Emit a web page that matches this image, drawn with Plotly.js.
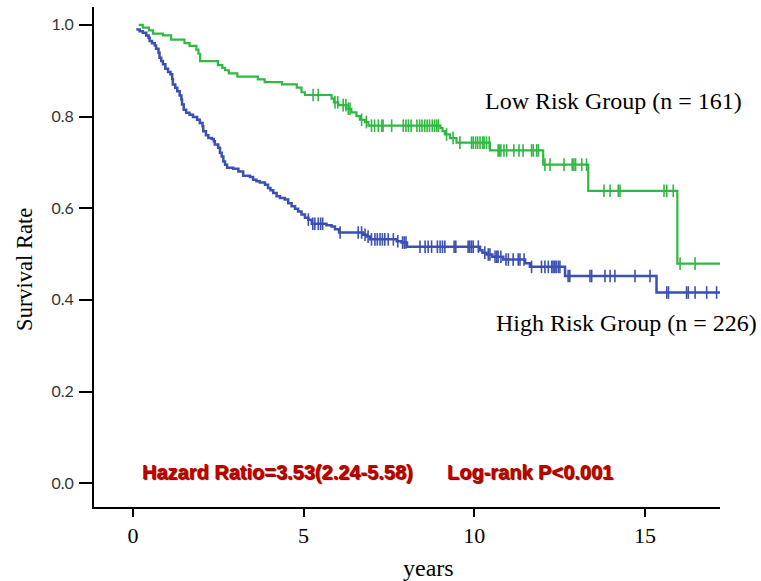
<!DOCTYPE html>
<html>
<head>
<meta charset="utf-8">
<script src="https://cdn.plot.ly/plotly-3.0.1.min.js"></script>
<style>
  html, body { margin: 0; padding: 0; background: #fff; }
  #chart { width: 761px; height: 581px; }
</style>
</head>
<body>
<div id="chart"></div>
<script>
// ---- Data (time in years, survival probability) ----
const lowTimes = [0.17,0.29,0.47,0.59,0.88,1.12,1.51,1.66,1.86,1.92,1.97,2.49,2.62,2.70,2.81,3.06,3.66,3.86,4.37,4.80,4.94,5.04,5.82,5.89,6.02,6.26,6.40,6.55,6.65,6.80,6.90,9.01,9.07,9.14,9.29,9.48,10.46,12.02,13.34,15.95,17.2];
const lowSurv  = [1.000,0.994,0.988,0.981,0.977,0.968,0.960,0.954,0.946,0.937,0.921,0.912,0.906,0.901,0.894,0.887,0.881,0.875,0.870,0.863,0.853,0.847,0.839,0.831,0.825,0.817,0.809,0.801,0.793,0.788,0.780,0.775,0.768,0.761,0.753,0.743,0.726,0.695,0.638,0.479,0.479];
const lowCensored = [5.28,5.43,5.92,6.00,6.16,6.24,6.31,6.36,6.70,6.84,6.99,7.08,7.19,7.29,7.33,7.58,7.92,8.00,8.07,8.15,8.32,8.40,8.47,8.55,8.62,8.69,8.77,8.84,8.90,8.95,9.19,9.38,9.58,9.92,9.97,10.04,10.10,10.17,10.25,10.29,10.36,10.44,10.70,10.73,10.78,10.87,10.95,11.16,11.31,11.43,11.68,11.73,11.83,11.88,12.07,12.22,12.63,12.87,12.92,12.97,13.15,13.29,13.80,13.98,14.22,14.27,15.56,15.64,15.83,16.03,16.47];

const highTimes = [0.10,0.20,0.29,0.39,0.46,0.49,0.56,0.64,0.68,0.75,0.78,0.83,0.88,0.95,1.03,1.10,1.15,1.17,1.24,1.30,1.37,1.42,1.44,1.49,1.56,1.66,1.76,1.88,1.96,2.04,2.06,2.14,2.21,2.31,2.37,2.40,2.50,2.55,2.60,2.65,2.70,2.76,2.94,3.09,3.23,3.43,3.52,3.62,3.72,3.87,3.96,4.03,4.11,4.21,4.31,4.45,4.55,4.65,4.75,4.84,4.94,5.04,5.14,5.24,5.67,5.82,5.92,6.04,6.75,6.85,6.95,7.73,7.87,8.03,10.17,10.24,10.36,10.53,10.85,11.49,11.63,12.66,15.34,17.2];
const highSurv  = [0.990,0.986,0.983,0.977,0.972,0.965,0.960,0.955,0.948,0.939,0.928,0.921,0.914,0.904,0.897,0.892,0.882,0.870,0.863,0.855,0.846,0.837,0.826,0.815,0.808,0.804,0.799,0.793,0.786,0.779,0.768,0.759,0.753,0.751,0.746,0.739,0.732,0.721,0.713,0.702,0.695,0.688,0.686,0.680,0.671,0.668,0.662,0.659,0.656,0.651,0.644,0.639,0.633,0.626,0.622,0.619,0.611,0.604,0.599,0.593,0.586,0.579,0.575,0.566,0.563,0.560,0.554,0.547,0.542,0.538,0.532,0.528,0.525,0.516,0.508,0.503,0.499,0.494,0.488,0.480,0.472,0.452,0.416,0.416];
const highCensored = [5.14,5.27,5.33,5.43,5.50,5.56,6.07,6.60,6.70,6.80,6.89,6.99,7.09,7.16,7.24,7.31,7.38,7.48,7.63,7.76,7.90,7.95,8.00,8.41,8.56,8.65,8.75,8.92,9.00,9.07,9.14,9.41,9.46,9.82,9.87,9.92,9.97,10.12,10.31,10.41,10.46,10.61,10.66,10.70,10.78,10.93,11.00,11.14,11.29,11.34,11.46,11.68,11.97,12.07,12.17,12.27,12.31,12.36,12.40,12.46,12.51,12.75,12.80,13.39,13.44,13.83,13.98,14.12,14.71,15.15,15.64,15.69,16.22,16.27,16.47,16.81,17.10];

const xTickVals = [0, 5, 10, 15];
const yTickVals = [0.0, 0.2, 0.4, 0.6, 0.8, 1.0];
const yTickText = ['0.0', '0.2', '0.4', '0.6', '0.8', '1.0'];

const xTitle = 'years';
const yTitle = 'Survival Rate';
const lowLabel = 'Low Risk Group (n = 161)';
const highLabel = 'High Risk Group (n = 226)';
const hrText = 'Hazard Ratio=3.53(2.24-5.58)';
const pText = 'Log-rank P<0.001';

// survival value of a step curve at time t
function stepValue(times, surv, t) {
  let v = surv[0];
  for (let i = 0; i < times.length; i++) { if (times[i] <= t) v = surv[i]; else break; }
  return v;
}

const GREEN = '#2fb842';
const BLUE = '#3a50b2';

const traces = [
  { x: highTimes, y: highSurv, mode: 'lines', line: { shape: 'hv', color: BLUE, width: 2.5 }, hoverinfo: 'skip', showlegend: false },
  { x: lowTimes, y: lowSurv, mode: 'lines', line: { shape: 'hv', color: GREEN, width: 2.2 }, hoverinfo: 'skip', showlegend: false },
  { x: highCensored, y: highCensored.map(t => stepValue(highTimes, highSurv, t)), mode: 'markers',
    marker: { symbol: 'line-ns-open', size: 9, color: BLUE, line: { color: BLUE, width: 1.6 } }, hoverinfo: 'skip', showlegend: false },
  { x: lowCensored, y: lowCensored.map(t => stepValue(lowTimes, lowSurv, t)), mode: 'markers',
    marker: { symbol: 'line-ns-open', size: 9, color: GREEN, line: { color: GREEN, width: 1.6 } }, hoverinfo: 'skip', showlegend: false }
];

const serif = 'Liberation Serif, Times New Roman, serif';
const redFont = { family: 'Liberation Sans, Arial, sans-serif', size: 20, color: '#c00000', weight: 700, shadow: '1px 1px 1px #5a0000' };

const layout = {
  width: 761, height: 581,
  margin: { l: 94, r: 41, t: 7, b: 74, pad: 0 },
  paper_bgcolor: '#ffffff', plot_bgcolor: '#ffffff',
  xaxis: {
    range: [-1.14, 17.2], tickvals: xTickVals, ticks: 'outside', ticklen: 8, tickwidth: 2, tickcolor: '#000',
    showline: true, linecolor: '#000', linewidth: 2, showgrid: false, zeroline: false,
    tickfont: { family: serif, size: 22, color: '#000' }
  },
  yaxis: {
    range: [-0.052, 1.039], tickvals: yTickVals, ticktext: yTickText, ticks: 'outside', ticklen: 13, tickwidth: 2, tickcolor: '#000',
    showline: true, linecolor: '#000', linewidth: 2, showgrid: false, zeroline: false,
    tickfont: { family: 'Lato, Noto Sans, sans-serif', size: 16, color: '#333' },
    ticklabelstandoff: 2
  },
  annotations: [
    { x: 0.535, y: -0.122, xref: 'paper', yref: 'paper', text: xTitle, showarrow: false, xanchor: 'center', yanchor: 'middle', font: { family: serif, size: 24, color: '#000' } },
    { x: -0.112, y: 0.476, xref: 'paper', yref: 'paper', text: yTitle, textangle: -90, showarrow: false, xanchor: 'center', yanchor: 'middle', font: { family: serif, size: 22.5, color: '#000' } },
    { x: 10.25, y: 0.834, xref: 'x', yref: 'y', text: lowLabel, showarrow: false, xanchor: 'left', yanchor: 'middle', font: { family: serif, size: 24, color: '#000' } },
    { x: 10.58, y: 0.350, xref: 'x', yref: 'y', text: highLabel, showarrow: false, xanchor: 'left', yanchor: 'middle', font: { family: serif, size: 24, color: '#000' } },
    { x: 0.2, y: 0.024, xref: 'x', yref: 'y', text: hrText, showarrow: false, xanchor: 'left', yanchor: 'middle', font: redFont },
    { x: 9.14, y: 0.024, xref: 'x', yref: 'y', text: pText, showarrow: false, xanchor: 'left', yanchor: 'middle', font: redFont }
  ]
};

Plotly.newPlot('chart', traces, layout, { staticPlot: true, displayModeBar: false });
</script>
</body>
</html>
